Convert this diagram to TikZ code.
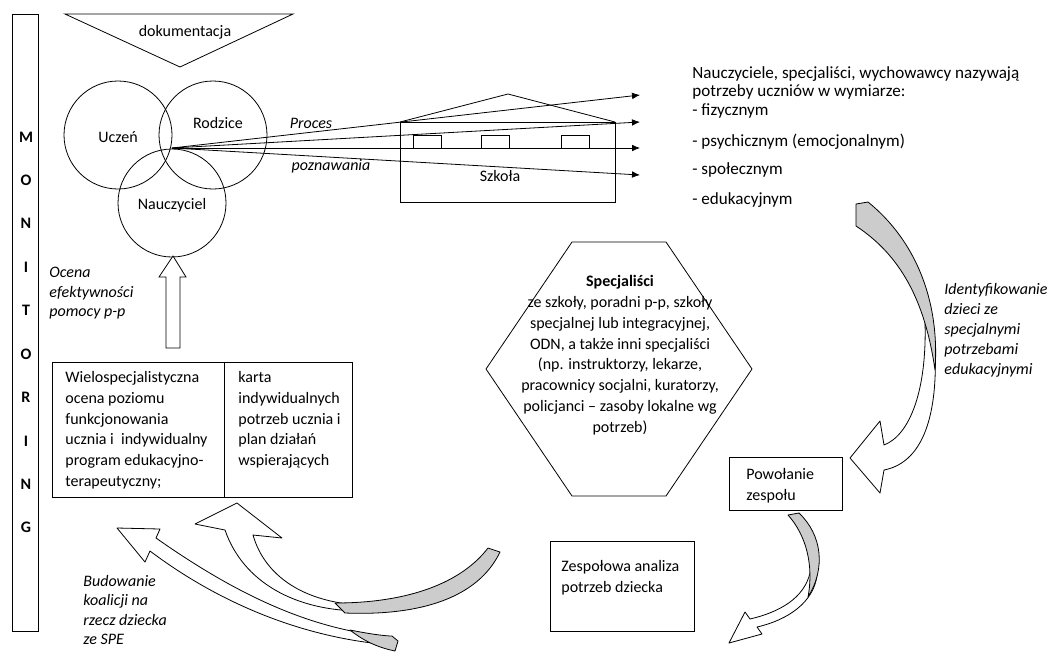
\documentclass[tikz,border=0pt]{standalone}
\usepackage{fontspec}
\setmainfont{Carlito}
\usetikzlibrary{arrows.meta}

\begin{document}
\begin{tikzpicture}[x=0.75pt, y=-0.75pt, line width=0.6pt,
  every node/.style={font=\fontsize{12}{15.6}\selectfont, inner sep=0pt},
  letter/.style={font=\fontsize{12}{13}\selectfont\bfseries},
  ring/.style={draw, circle, minimum size=81pt},
  block/.style={align=left, anchor=north west},
  ital/.style={font=\fontsize{12}{14.6}\selectfont\itshape, align=left, anchor=north west},
  ray/.style={-{Latex[length=6pt,width=5pt]}},
  band/.style={draw, fill=white, line join=round},
  underside/.style={draw, fill=gray!40, line join=round}]
\useasboundingbox (0,0) rectangle (1055,651);

% monitoring
\draw (12,14) rectangle (38,631);
\foreach \c [count=\i from 0] in {M,O,N,I,T,O,R,I,N,G}
  \node[letter] (mon\i) at (26,{137+43.4*\i}) {\c};

% dokumentacja
\draw (65,14) -- (293,14) -- (180,67) -- cycle;
\node[anchor=base] (dok) at (185,36) {dokumentacja};

% uczen, rodzice, nauczyciel
\node[ring] (uczen) at (118,135) {};
\node[ring] (rodzice) at (213,135) {};
\node[ring] (nauczyciel) at (172,203) {};
\node[anchor=base] (tuczen) at (118,142) {Uczeń};
\node[anchor=base] (trodzice) at (218,128) {Rodzice};
\node[anchor=base] (tnauczyciel) at (172,209) {Nauczyciel};

% szkola
\draw (400,122) rectangle (615,202);
\draw (400,122) -- (508,94) -- (615,122);
\foreach \wx in {413,481,561}
  \draw (\wx,135) rectangle ++(28,13);
\node[anchor=base] (szkola) at (500,181) {Szkoła};

% proces poznawania
\coordinate (src) at (172,148);
\foreach \ry [count=\i] in {95,122,148,175} {
  \coordinate (ray\i) at (640,\ry);
  \draw[ray] (src) -- (ray\i);
}
\node[anchor=base, font=\fontsize{12}{13}\selectfont\itshape] (proces) at (311,128) {Proces};
\node[anchor=base, font=\fontsize{12}{13}\selectfont\itshape] (poznawania) at (331,170) {poznawania};

% potrzeby
\node[block, font=\fontsize{12.8}{13.9}\selectfont] (needs) at (692,66)
  {Nauczyciele, specjaliści, wychowawcy nazywają\\potrzeby uczniów w wymiarze:\\- fizycznym};
\node[anchor=base west, font=\fontsize{12.8}{14}\selectfont] (psych) at (692,146.5) {- psychicznym (emocjonalnym)};
\node[anchor=base west, font=\fontsize{12.8}{14}\selectfont] (spol) at (692,174.5) {- społecznym};
\node[anchor=base west, font=\fontsize{12.8}{14}\selectfont] (edu) at (692,204.5) {- edukacyjnym};

% ocena efektywnosci
\draw[fill=white] (166,348) -- (166,277) -- (159,277) -- (173,256) -- (186,277)
  -- (180,277) -- (180,348) -- cycle;
\node[ital] (ocena) at (49,267) {Ocena\\efektywności\\pomocy p-p};

% wielospecjalistyczna ocena / karta
\draw (52,362) rectangle (352,497);
\draw (224,362) -- (224,497);
\node[block] (wielo) at (65,371) {Wielospecjalistyczna\\ocena poziomu\\funkcjonowania\\ucznia i~ indywidualny\\program edukacyjno-\\terapeutyczny;};
\node[block] (karta) at (238,371) {karta\\indywidualnych\\potrzeb ucznia i\\plan działań\\wspierających};

% specjalisci
\draw (572,242) -- (666,242) -- (752,369) -- (666,496) -- (572,496) -- (486,369) -- cycle;
\node[align=center, anchor=north] (spec) at (620,275) {\textbf{Specjaliści}\\ze szkoły, poradni p-p, szkoły\\specjalnej lub integracyjnej,\\ODN, a także inni specjaliści\\(np. instruktorzy, lekarze,\\pracownicy socjalni, kuratorzy,\\policjanci – zasoby lokalne wg\\potrzeb)};

% powolanie, analiza
\draw (729,457) rectangle (842,510);
\node[block] (powolanie) at (746,468) {Powołanie\\zespołu};
\draw (550,541) rectangle (694,631);
\node[block] (analiza) at (561,560) {Zespołowa analiza\\potrzeb dziecka};

% identyfikowanie
\draw[band] (925,322) .. controls (927,390) and (910,435) .. (884,445) -- (880,421) -- (850,458)
  -- (880,493) -- (884,470) .. controls (925,462) and (942,410) .. (933,320) -- cycle;
\draw[underside] (856,204) -- (868,202) .. controls (915,240) and (940,300) .. (935,370)
  .. controls (925,300) and (900,255) .. (856,226) -- cycle;
\node[ital, font=\fontsize{12}{15}\selectfont\itshape] (ident) at (944,283) {Identyfikowanie\\dzieci ze\\specjalnymi\\potrzebami\\edukacyjnymi};

% powolanie -> analiza
\draw[band] (810,573) .. controls (804,598) and (780,612) .. (750,619) -- (745,612) -- (729,643)
  -- (762,634) -- (757,627) .. controls (788,620) and (814,602) .. (817,575) -- cycle;
\draw[underside] (788,515) -- (799,513) .. controls (822,535) and (826,568) .. (808,597)
  .. controls (814,565) and (806,535) .. (788,515) -- cycle;

% analiza -> karta
\draw[band] (253,535) .. controls (265,577) and (305,602) .. (360,605) -- (362,611)
  .. controls (295,611) and (243,582) .. (225,530) -- (195,524) -- (237,503) -- (282,538) -- cycle;
\draw[underside] (335,603) .. controls (410,603) and (462,582) .. (488,548) -- (500,552)
  .. controls (478,598) and (420,616) .. (345,613) -- cycle;

% budowanie koalicji
\draw[band] (156,538) .. controls (230,590) and (300,625) .. (375,635) -- (372,643)
  .. controls (292,633) and (215,600) .. (150,551) -- (145,562) -- (117,528) -- (160,529) -- cycle;
\draw[underside] (350,630) .. controls (370,634) and (385,636) .. (392,636) -- (398,641) -- (395,651)
  .. controls (380,648) and (365,642) .. (350,630) -- cycle;
\node[ital] (budowanie) at (83,575) {Budowanie\\koalicji na\\rzecz dziecka\\ze SPE};
\end{tikzpicture}
\end{document}
